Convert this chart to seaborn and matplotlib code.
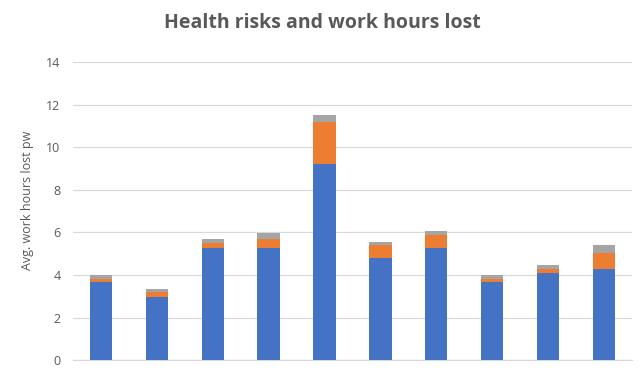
import numpy as np
import pandas as pd
import seaborn as sns
import matplotlib.pyplot as plt

# values (10 groups, no x labels shown)
categories = ["1", "2", "3", "4", "5", "6", "7", "8", "9", "10"]
risk_a = [3.68, 2.96, 5.28, 5.28, 9.22, 4.81, 5.28, 3.68, 4.10, 4.29]
risk_b = [0.12, 0.25, 0.22, 0.40, 1.97, 0.59, 0.59, 0.12, 0.19, 0.72]
risk_c = [0.20, 0.14, 0.20, 0.30, 0.33, 0.14, 0.20, 0.19, 0.19, 0.41]
yticks = [0, 2, 4, 6, 8, 10, 12, 14]

BLUE, ORANGE, GRAY = "#4472C4", "#ED7D31", "#A5A5A5"
TEXT = "#595959"

df = pd.DataFrame({"cat": categories, "a": risk_a, "b": risk_b, "c": risk_c})
df["ab"] = df["a"] + df["b"]
df["abc"] = df["ab"] + df["c"]

sns.set_theme(style="white")
plt.rcParams["font.family"] = ["Open Sans", "DejaVu Sans"]

fig = plt.figure(figsize=(6.44, 3.72), dpi=100)
ax = fig.add_axes([0.1134, 0.032, 0.8676, 0.801])

# stacked bars by overplotting cumulative totals
bar_kw = dict(width=0.4, saturation=1, linewidth=0, ax=ax)
sns.barplot(data=df, x="cat", y="abc", color=GRAY, zorder=2, **bar_kw)
sns.barplot(data=df, x="cat", y="ab", color=ORANGE, zorder=3, **bar_kw)
sns.barplot(data=df, x="cat", y="a", color=BLUE, zorder=4, **bar_kw)

ax.set_ylim(0, 14)
ax.set_yticks(yticks)
ax.set_xlim(-0.5, len(categories) - 0.5)
ax.yaxis.grid(True, color="#D9D9D9", linewidth=0.9, zorder=0)
ax.set_axisbelow(True)
for s in ["top", "right", "left"]:
    ax.spines[s].set_visible(False)
ax.spines["bottom"].set_color("#D9D9D9")
ax.spines["bottom"].set_linewidth(0.9)
ax.set_xticklabels([])
ax.set_xlabel("")
ax.tick_params(axis="x", length=0)
ax.tick_params(axis="y", length=0, labelsize=9, colors=TEXT, pad=9)
ax.set_ylabel("Avg. work hours lost pw", fontsize=9, color=TEXT)
ax.yaxis.set_label_coords(-0.07, 0.537)

fig.text(0.5, 0.938, "Health risks and work hours lost", ha="center", va="center",
         fontsize=14, fontweight="bold", color=TEXT)

fig.savefig("out.png", dpi=100)
